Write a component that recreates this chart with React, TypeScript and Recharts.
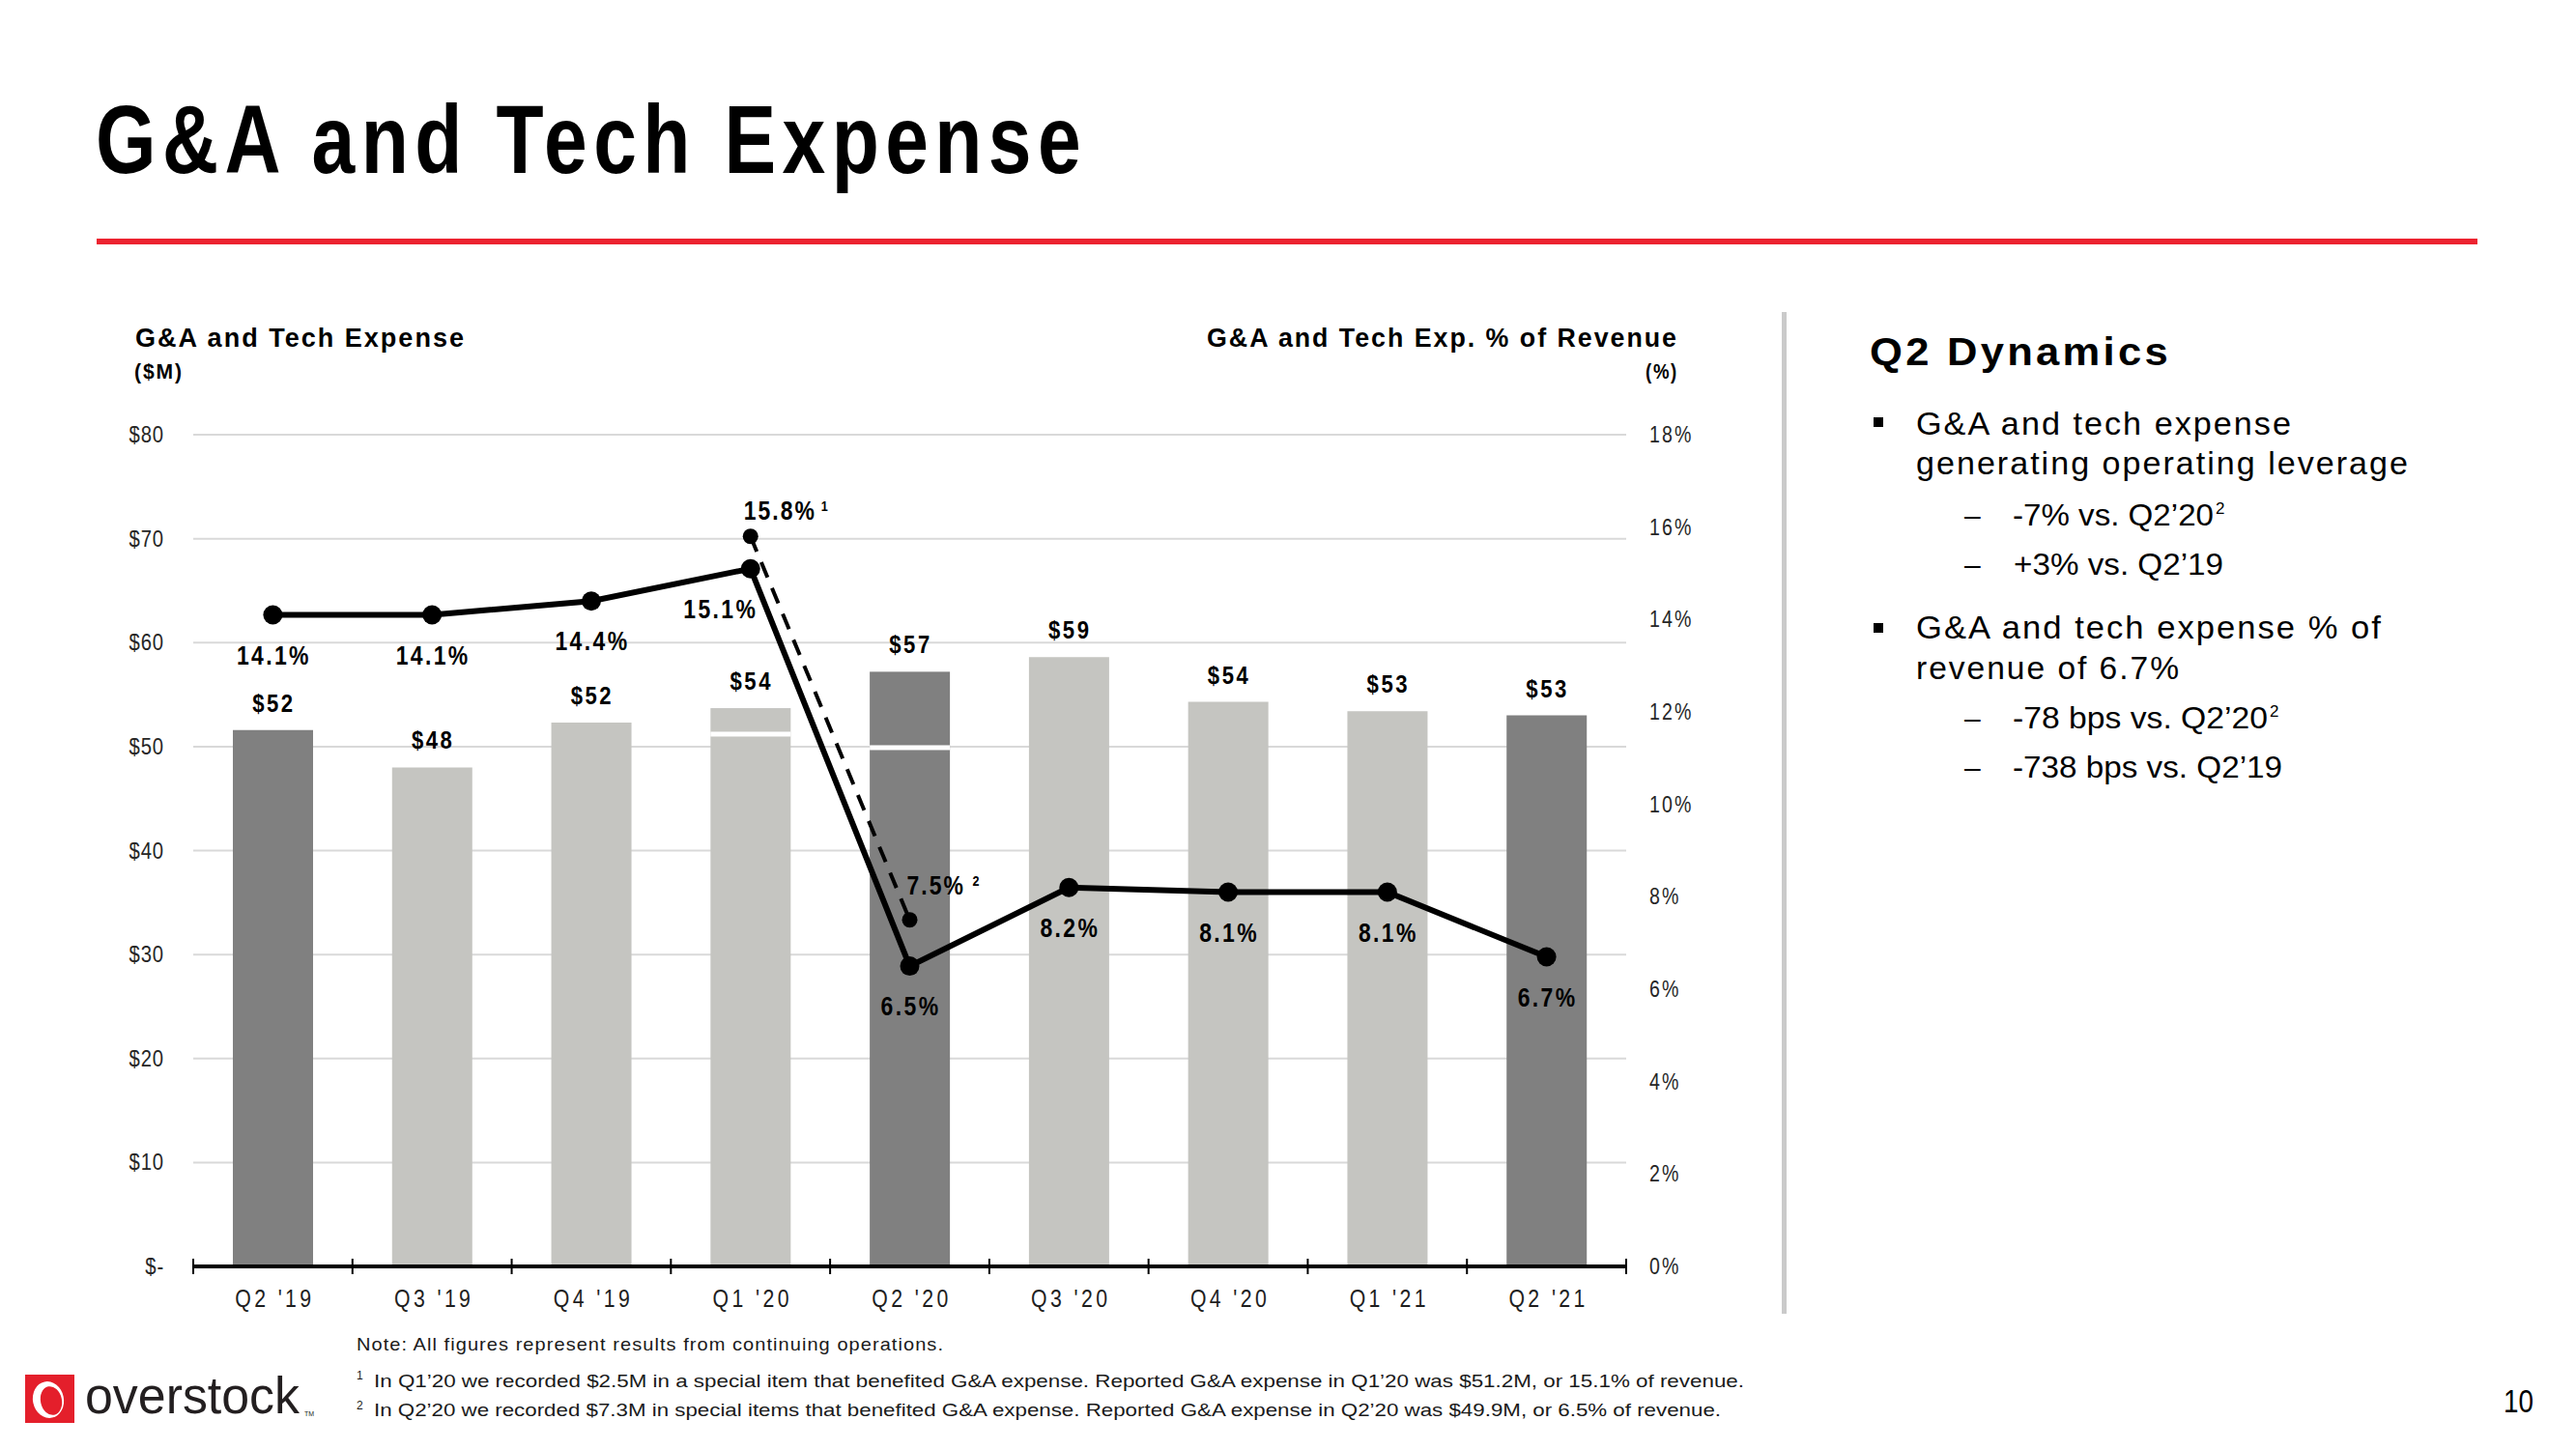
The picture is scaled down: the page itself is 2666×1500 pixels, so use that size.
import React from 'react';
import { ComposedChart, Bar, Line, XAxis, YAxis, CartesianGrid, Cell, LabelList } from 'recharts';

// ---------- data ----------
const quarters = ["Q2 '19", "Q3 '19", "Q4 '19", "Q1 '20", "Q2 '20", "Q3 '20", "Q4 '20", "Q1 '21", "Q2 '21"];
const reportedExpense = [51.6, 48.0, 52.3, 51.2, 49.9, 58.6, 54.3, 53.4, 53.0];
const specialItems = [0, 0, 0, 2.5, 7.3, 0, 0, 0, 0];
const totalLabels = ['$52', '$48', '$52', '$54', '$57', '$59', '$54', '$53', '$53'];
const pctOfRevenue = [14.1, 14.1, 14.4, 15.1, 6.5, 8.2, 8.1, 8.1, 6.7];
const adjustedPct = [null, null, null, 15.8, 7.5, null, null, null, null];
const adjustedMarks = [null, null, null, '1', '2', null, null, null, null];
const barTone = ['dark', 'light', 'light', 'light', 'dark', 'light', 'light', 'light', 'dark'];
const leftTicks = [0, 10, 20, 30, 40, 50, 60, 70, 80];
const rightTicks = [0, 2, 4, 6, 8, 10, 12, 14, 16, 18];

const FONT = '"Liberation Sans", Arial, Helvetica, sans-serif';
const DARK = '#808080';
const LIGHT = '#C5C5C1';
const toneColor = (t: string) => (t === 'dark' ? DARK : LIGHT);

const data = quarters.map((q, i) => ({
  q,
  reported: reportedExpense[i],
  special: specialItems[i],
  total: reportedExpense[i] + specialItems[i],
  totalLabel: totalLabels[i],
  pct: pctOfRevenue[i],
  adj: adjustedPct[i],
  mark: adjustedMarks[i],
  tone: barTone[i],
}));

// condensed text helper
function CT(props: any) {
  const { x, y, anchor = 'middle', size, weight = 400, sx = 0.85, ls = 0, fill = '#000', children } = props;
  return (
    <text
      transform={`translate(${x},${y}) scale(${sx},1)`}
      textAnchor={anchor}
      fontSize={size}
      fontWeight={weight}
      letterSpacing={ls}
      fill={fill}
      fontFamily={FONT}
    >
      {children}
    </text>
  );
}

const XTick = (props: any) => {
  const { x, y, payload, index } = props;
  const half = payload && payload.offset ? payload.offset : 1483 / quarters.length / 2;
  const isLast = index === quarters.length - 1 || (payload && payload.value === quarters[quarters.length - 1]);
  return (
    <g>
      <line x1={x - half} x2={x - half} y1={y - 8} y2={y + 8} stroke="#000" strokeWidth={2} />
      {isLast && <line x1={x + half} x2={x + half} y1={y - 8} y2={y + 8} stroke="#000" strokeWidth={2} />}
      <CT x={x + 2} y={y + 42} size={25} sx={0.85} ls={4} fill="#1e1e1e">{payload.value}</CT>
    </g>
  );
};

const LeftTick = (props: any) => {
  const { x, y, payload } = props;
  const v = payload.value;
  return (
    <CT x={x} y={y + 8} anchor="end" size={23} sx={0.88} ls={1} fill="#262626">
      {v === 0 ? '$-' : `$${v}`}
    </CT>
  );
};

const RightTick = (props: any) => {
  const { x, y, payload } = props;
  return (
    <CT x={x} y={y + 8} anchor="start" size={23} sx={0.85} ls={2.5} fill="#262626">
      {`${payload.value}%`}
    </CT>
  );
};

const TotalLabel = (p: any) => {
  const { x, y, value } = p;
  if (value == null) return null;
  return (
    <CT x={x + 1} y={y - 19} size={26} weight={700} sx={0.85} ls={3}>
      {value}
    </CT>
  );
};

const PctLabel = (p: any) => {
  const { x, y, value, index } = p;
  if (value == null) return null;
  const dx = index === 3 ? -32 : 0;
  return (
    <CT x={x + dx + 1} y={y + 51} size={27} weight={700} sx={0.85} ls={2.8}>
      {`${Number(value).toFixed(1)}%`}
    </CT>
  );
};

const AdjLabel = (p: any) => {
  const { x, y, value, index } = p;
  if (value == null) return null;
  const dy = index === 3 ? -17 : -26;
  const dx = index === 3 ? -7 : -3;
  const supDx = index === 3 ? 80 : 68;
  return (
    <g>
      <CT x={x + dx} y={y + dy} anchor="start" size={27} weight={700} sx={0.85} ls={2.4}>
        {`${Number(value).toFixed(1)}%`}
      </CT>
      <CT x={x + dx + supDx} y={y + dy - 9} anchor="start" size={14} weight={700} sx={0.9}>
        {adjustedMarks[index]}
      </CT>
    </g>
  );
};

const SpecialShape = (p: any) => {
  const { x, y, width, height, payload } = p;
  if (!height || height <= 0) return null;
  const fill = toneColor(payload ? payload.tone : 'light');
  return (
    <g>
      <rect x={x} y={y} width={width} height={height} fill={fill} />
      <rect x={x} y={y + height - 2.5} width={width} height={5} fill="#ffffff" />
    </g>
  );
};

function SlideText() {
  const t = { fontFamily: FONT } as any;
  return (
    <svg
      width={2666}
      height={1500}
      style={{ position: 'absolute', left: 0, top: 0, pointerEvents: 'none' }}
    >
      {/* title */}
      <text x={99} y={179} fontSize={100} fontWeight={700} letterSpacing={8} textLength={1026} lengthAdjust="spacingAndGlyphs" {...t}>
        G&amp;A and Tech Expense
      </text>
      <rect x={100} y={247} width={2464} height={6} fill="#EC2330" />

      {/* chart titles */}
      <text x={140} y={359} fontSize={27} fontWeight={700} letterSpacing={2} textLength={342} lengthAdjust="spacingAndGlyphs" {...t}>
        G&amp;A and Tech Expense
      </text>
      <text x={139} y={392} fontSize={22} fontWeight={700} letterSpacing={2} textLength={51} lengthAdjust="spacingAndGlyphs" {...t}>
        ($M)
      </text>
      <text x={1249} y={359} fontSize={27} fontWeight={700} letterSpacing={2} textLength={488} lengthAdjust="spacingAndGlyphs" {...t}>
        G&amp;A and Tech Exp. % of Revenue
      </text>
      <text x={1703} y={392} fontSize={22} fontWeight={700} letterSpacing={2} textLength={34} lengthAdjust="spacingAndGlyphs" {...t}>
        (%)
      </text>

      {/* separator */}
      <rect x={1844} y={323} width={5} height={1037} fill="#CACACA" />

      {/* right panel */}
      <text x={1935} y={378} fontSize={40} fontWeight={700} letterSpacing={3} textLength={312} lengthAdjust="spacingAndGlyphs" {...t}>
        Q2 Dynamics
      </text>
      <rect x={1939} y={432} width={10} height={10} fill="#000" />
      <text x={1983} y={450} fontSize={34} letterSpacing={2} textLength={390} lengthAdjust="spacingAndGlyphs" {...t}>
        G&amp;A and tech expense
      </text>
      <text x={1983} y={491} fontSize={34} letterSpacing={2} textLength={511} lengthAdjust="spacingAndGlyphs" {...t}>
        generating operating leverage
      </text>
      <text x={2033} y={544} fontSize={30} {...t}>–</text>
      <text x={2083} y={544} fontSize={31} textLength={208} lengthAdjust="spacingAndGlyphs" {...t}>
        -7% vs. Q2’20
      </text>
      <text x={2293} y={532} fontSize={17} {...t}>2</text>
      <text x={2033} y={595} fontSize={30} {...t}>–</text>
      <text x={2084} y={595} fontSize={31} textLength={217} lengthAdjust="spacingAndGlyphs" {...t}>
        +3% vs. Q2’19
      </text>

      <rect x={1939} y={645} width={10} height={10} fill="#000" />
      <text x={1983} y={661} fontSize={34} letterSpacing={2} textLength={483} lengthAdjust="spacingAndGlyphs" {...t}>
        G&amp;A and tech expense % of
      </text>
      <text x={1983} y={703} fontSize={34} letterSpacing={2} textLength={274} lengthAdjust="spacingAndGlyphs" {...t}>
        revenue of 6.7%
      </text>
      <text x={2033} y={754} fontSize={30} {...t}>–</text>
      <text x={2083} y={754} fontSize={31} textLength={264} lengthAdjust="spacingAndGlyphs" {...t}>
        -78 bps vs. Q2’20
      </text>
      <text x={2349} y={742} fontSize={17} {...t}>2</text>
      <text x={2033} y={805} fontSize={30} {...t}>–</text>
      <text x={2083} y={805} fontSize={31} textLength={279} lengthAdjust="spacingAndGlyphs" {...t}>
        -738 bps vs. Q2’19
      </text>

      {/* footnotes */}
      <text x={369} y={1398} fontSize={19} letterSpacing={1} textLength={608} lengthAdjust="spacingAndGlyphs" fill="#1a1a1a" {...t}>
        Note: All figures represent results from continuing operations.
      </text>
      <text x={369} y={1428} fontSize={12} fill="#1a1a1a" {...t}>1</text>
      <text x={387} y={1436} fontSize={19} textLength={1418} lengthAdjust="spacingAndGlyphs" fill="#1a1a1a" {...t}>
        In Q1’20 we recorded $2.5M in a special item that benefited G&amp;A expense. Reported G&amp;A expense in Q1’20 was $51.2M, or 15.1% of revenue.
      </text>
      <text x={369} y={1459} fontSize={12} fill="#1a1a1a" {...t}>2</text>
      <text x={387} y={1466} fontSize={19} textLength={1394} lengthAdjust="spacingAndGlyphs" fill="#1a1a1a" {...t}>
        In Q2’20 we recorded $7.3M in special items that benefited G&amp;A expense. Reported G&amp;A expense in Q2’20 was $49.9M, or 6.5% of revenue.
      </text>

      {/* logo */}
      <rect x={26} y={1423} width={51} height={50} fill="#E41F2B" />
      <ellipse cx={50} cy={1449} rx={16} ry={19} fill="#fff" transform="rotate(-12 50 1449)" />
      <ellipse cx={53} cy={1450} rx={11} ry={15} fill="#E41F2B" transform="rotate(-12 53 1450)" />
      <text x={88} y={1463} fontSize={54} fill="#231F20" textLength={222} lengthAdjust="spacingAndGlyphs" {...t}>
        overstock
      </text>
      <text x={315} y={1466} fontSize={7} fill="#231F20" {...t}>TM</text>

      {/* page number */}
      <text x={2591} y={1462} fontSize={34} textLength={31} lengthAdjust="spacingAndGlyphs" {...t}>
        10
      </text>
    </svg>
  );
}

export default function App() {
  return (
    <div style={{ position: 'absolute', left: 0, top: 0, width: 2666, height: 1500, background: '#fff', overflow: 'hidden' }}>
      <div style={{ position: 'absolute', left: 0, top: 0 }}>
        <ComposedChart
          width={1800}
          height={1400}
          data={data}
          margin={{ top: 450, right: 0, bottom: 29, left: 0 }}
          barSize={83}
        >
          <CartesianGrid yAxisId="l" vertical={false} stroke="#D9D9D9" strokeWidth={2} />
          <XAxis
            dataKey="q"
            height={60}
            interval={0}
            tickSize={0}
            tickMargin={0}
            tickLine={false}
            axisLine={{ stroke: '#000', strokeWidth: 4 }}
            tick={<XTick />}
          />
          <YAxis
            yAxisId="l"
            width={200}
            domain={[0, 80]}
            ticks={leftTicks}
            interval={0}
            axisLine={false}
            tickLine={false}
            tickSize={0}
            tickMargin={30}
            tick={<LeftTick />}
          />
          <YAxis
            yAxisId="r"
            orientation="right"
            width={117}
            domain={[0, 18]}
            ticks={rightTicks}
            interval={0}
            axisLine={false}
            tickLine={false}
            tickSize={0}
            tickMargin={24}
            tick={<RightTick />}
          />
          <Bar yAxisId="l" dataKey="reported" stackId="a" isAnimationActive={false}>
            {data.map((d, i) => (
              <Cell key={i} fill={toneColor(d.tone)} />
            ))}
          </Bar>
          <Bar yAxisId="l" dataKey="special" stackId="a" isAnimationActive={false} shape={SpecialShape}>
            {data.map((d, i) => (
              <Cell key={i} fill={toneColor(d.tone)} />
            ))}
          </Bar>
          <Line
            yAxisId="l"
            dataKey="total"
            stroke="none"
            dot={false}
            activeDot={false}
            isAnimationActive={false}
          >
            <LabelList dataKey="totalLabel" content={TotalLabel} />
          </Line>
          <Line
            yAxisId="r"
            dataKey="adj"
            stroke="#000"
            strokeWidth={4}
            strokeDasharray="17 12"
            connectNulls={false}
            dot={{ r: 8, fill: '#000', stroke: '#000', strokeWidth: 0 }}
            activeDot={false}
            isAnimationActive={false}
          >
            <LabelList dataKey="adj" content={AdjLabel} />
          </Line>
          <Line
            yAxisId="r"
            dataKey="pct"
            stroke="#000"
            strokeWidth={6}
            dot={{ r: 10, fill: '#000', stroke: '#000', strokeWidth: 0 }}
            activeDot={false}
            isAnimationActive={false}
          >
            <LabelList dataKey="pct" content={PctLabel} />
          </Line>
        </ComposedChart>
      </div>
      <SlideText />
    </div>
  );
}
